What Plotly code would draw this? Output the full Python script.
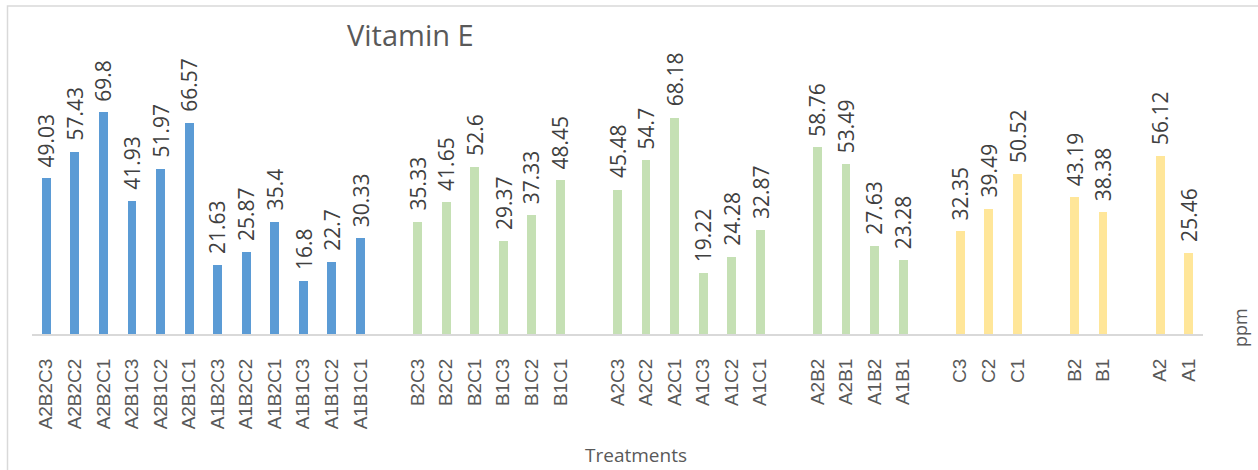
import plotly.graph_objects as go

# ---- data ----
labels_ABC = ["A2B2C3", "A2B2C2", "A2B2C1", "A2B1C3", "A2B1C2", "A2B1C1",
              "A1B2C3", "A1B2C2", "A1B2C1", "A1B1C3", "A1B1C2", "A1B1C1"]
values_ABC = [49.03, 57.43, 69.8, 41.93, 51.97, 66.57, 21.63, 25.87, 35.4, 16.8, 22.7, 30.33]

labels_BC = ["B2C3", "B2C2", "B2C1", "B1C3", "B1C2", "B1C1"]
values_BC = [35.33, 41.65, 52.6, 29.37, 37.33, 48.45]

labels_AC = ["A2C3", "A2C2", "A2C1", "A1C3", "A1C2", "A1C1"]
values_AC = [45.48, 54.7, 68.18, 19.22, 24.28, 32.87]

labels_AB = ["A2B2", "A2B1", "A1B2", "A1B1"]
values_AB = [58.76, 53.49, 27.63, 23.28]

labels_C = ["C3", "C2", "C1"]
values_C = [32.35, 39.49, 50.52]

labels_B = ["B2", "B1"]
values_B = [43.19, 38.38]

labels_A = ["A2", "A1"]
values_A = [56.12, 25.46]

BLUE = "#5B9BD5"
GREEN = "#C5E0B4"
YELLOW = "#FFE699"

groups = [
    (labels_ABC, values_ABC, BLUE),
    (labels_BC, values_BC, GREEN),
    (labels_AC, values_AC, GREEN),
    (labels_AB, values_AB, GREEN),
    (labels_C, values_C, YELLOW),
    (labels_B, values_B, YELLOW),
    (labels_A, values_A, YELLOW),
]

xs, ys, cols, texts = [], [], [], []
pos = 0
for labs, vals, col in groups:
    for lab, v in zip(labs, vals):
        xs.append(pos)
        ys.append(v)
        cols.append(col)
        texts.append(lab)
        pos += 1
    pos += 1  # empty slot between groups
last = xs[-1]

fig = go.Figure()
fig.add_trace(go.Bar(
    x=xs, y=ys, marker=dict(color=cols, line=dict(width=0)),
    width=0.31, hoverinfo="x+y", showlegend=False,
))

for x, v in zip(xs, ys):
    fig.add_annotation(
        x=x, y=v, xref="x", yref="y", text=f"{v:g}", showarrow=False,
        textangle=-90, xanchor="center", yanchor="bottom", yshift=9,
        font=dict(family="Open Sans", size=21, color="#404040"),
    )

L, R, T, B = 32, 55, 80, 136
W, H = 1258, 470
pw = W - L - R
ph = H - T - B

def px(xp):
    return (xp - L) / pw

def py(yp):
    return (H - B - yp) / ph

fig.update_layout(
    width=W, height=H,
    margin=dict(l=L, r=R, t=T, b=B),
    paper_bgcolor="white", plot_bgcolor="white",
    bargap=0,
    xaxis=dict(
        range=[-0.5, last + 0.5], tickmode="array", tickvals=xs, ticktext=texts,
        tickangle=-90, showgrid=False, zeroline=False, showline=True,
        linecolor="#D9D9D9", linewidth=2, ticks="", ticklabelstandoff=15,
        tickfont=dict(family="Liberation Sans", size=19, color="#595959"),
        fixedrange=True,
    ),
    yaxis=dict(range=[0, 80], visible=False, fixedrange=True),
    font=dict(family="Open Sans", color="#595959"),
    shapes=[dict(
        type="rect", xref="paper", yref="paper",
        x0=px(7.5), x1=px(W + 20), y0=py(H + 20), y1=py(6),
        line=dict(color="#D9D9D9", width=1.5), fillcolor="rgba(0,0,0,0)", layer="below",
    )],
)

fig.add_annotation(
    xref="paper", yref="paper", x=px(345), y=py(34), xanchor="left", yanchor="middle",
    text="Vitamin E", showarrow=False,
    font=dict(family="Open Sans", size=29, color="#595959"),
)
fig.add_annotation(
    xref="paper", yref="paper", x=px(636), y=py(455), xanchor="center", yanchor="middle",
    text="Treatments", showarrow=False,
    font=dict(family="Open Sans", size=19, color="#595959"),
)
fig.add_annotation(
    xref="paper", yref="paper", x=px(1240), y=py(328), xanchor="center", yanchor="middle",
    text="ppm", showarrow=False, textangle=-90,
    font=dict(family="Open Sans", size=18, color="#595959"),
)

fig.write_html("out.html")
